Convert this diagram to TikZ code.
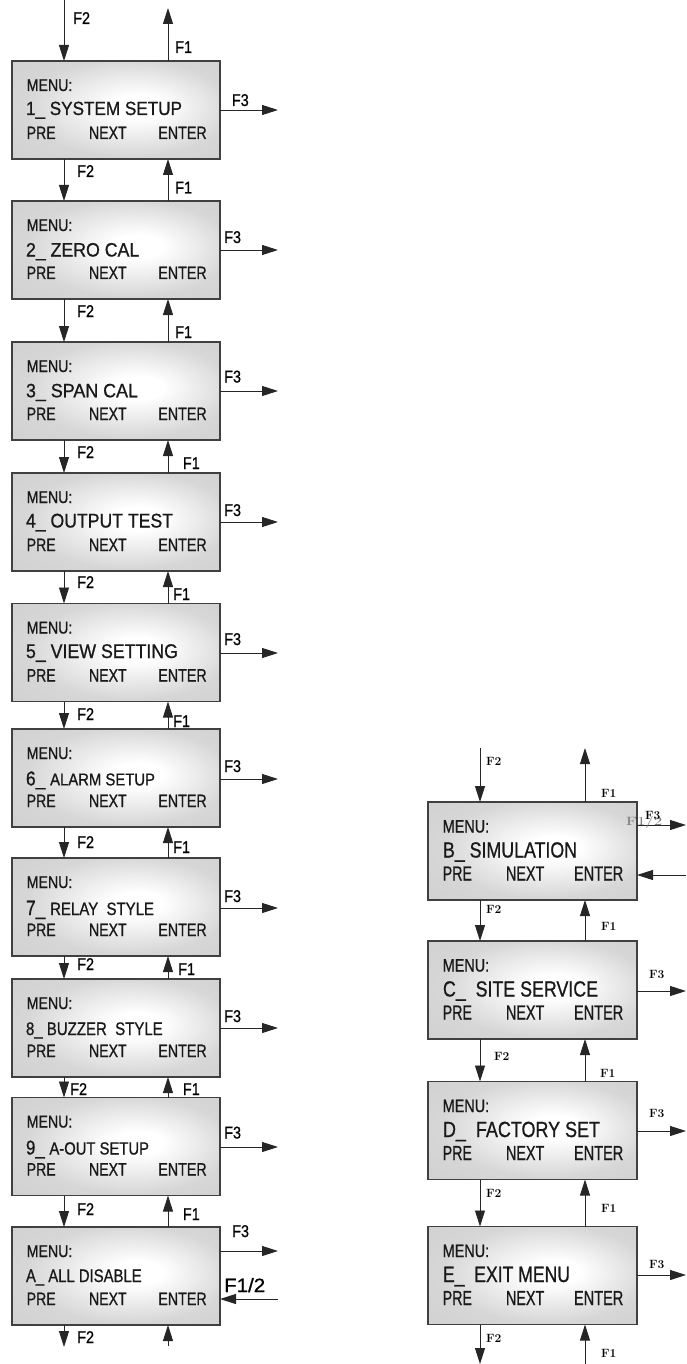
\documentclass[tikz,border=0pt]{standalone}
\usepackage{fontspec}
\usepackage{graphicx}
\usetikzlibrary{arrows.meta,calc}
\newfontfamily\nar[FakeStretch=0.85,FakeBold=0.8]{Liberation Sans}
\newcommand\fitt[3]{\resizebox{#1pt}{#2pt}{\nar #3}}
\newcommand\fitr[3]{\resizebox{#1pt}{#2pt}{\nar #3}}
\pgfdeclareradialshading{boxshade}{\pgfpoint{6bp}{2bp}}{color(0bp)=(white); color(6bp)=(white); color(25bp)=(black!16); color(50bp)=(black!20)}
\tikzset{
  mbox/.style={draw=black!75, line width=1.1pt, shading=boxshade,
    minimum width=208pt, minimum height=98pt, inner sep=0pt, outer sep=0pt},
  rbox/.style={mbox, minimum width=209pt},
  txt/.style={inner sep=0pt, outer sep=0pt, anchor=base west, text=black!90},
  lab/.style={inner sep=0pt, anchor=base west, text=black, font={\fontsize{17}{17}\nar}},
  rlab/.style={inner sep=0pt, anchor=base west, text=black, font={\fontsize{12}{12}\selectfont\bfseries}},
  arr/.style={draw=black!85, line width=0.9pt, -{Triangle[length=16pt,width=10pt]}},
}
% left box: name, top, title offset, title width, title height, title
\newcommand\lbox[6]{%
  \node[mbox] (#1) at (116,#2+49) {};
  \node[txt] (#1m) at (26.7,#2+30) {\fitt{45.7}{11.7}{MENU:}};
  \node[txt] (#1t) at (26,#2+#3) {\fitt{#4}{#5}{#6}};
  \node[txt] (#1p) at (26.7,#2+78) {\fitt{29}{12.3}{PRE}};
  \node[txt] (#1n) at (89,#2+78) {\fitt{37.7}{12.3}{NEXT}};
  \node[txt] (#1e) at (158.3,#2+78) {\fitt{48.4}{12.3}{ENTER}};
}
% right box: name, top, title width, title
\newcommand\rbox[4]{%
  \node[rbox] (#1) at (532.5,#2+49) {};
  \node[txt] (#1m) at (442.7,#2+30.5) {\fitr{46.5}{12.3}{MENU:}};
  \node[txt] (#1t) at (443,#2+55.5) {\fitr{#3}{15.3}{#4}};
  \node[txt] (#1p) at (442.7,#2+78.5) {\fitr{29.3}{14}{PRE}};
  \node[txt] (#1n) at (506,#2+78.5) {\fitr{38.3}{14}{NEXT}};
  \node[txt] (#1e) at (574,#2+78.5) {\fitr{49.3}{14}{ENTER}};
}
\begin{document}
\begin{tikzpicture}[x=1pt,y=-1pt]
\useasboundingbox (0,0) rectangle (686,1364);

% ---------- left column ----------
\lbox{b1}{61}{54}{156}{13.3}{1\_ SYSTEM SETUP}
\lbox{b2}{201}{55.5}{113.3}{13.5}{2\_ ZERO CAL}
\lbox{b3}{342}{55.3}{112}{13.5}{3\_ SPAN CAL}
\lbox{b4}{473}{54.5}{147}{13.8}{4\_ OUTPUT TEST}
\lbox{b5}{603.5}{54.5}{152}{13.8}{5\_ VIEW SETTING}
\lbox{b6}{729}{56.4}{129}{14}{{\fontsize{18}{18}\selectfont 6\_ }{\fontsize{15.4}{15.4}\selectfont ALARM SETUP}}
\lbox{b7}{858}{57}{128}{14.3}{{\fontsize{18}{18}\selectfont 7\_ }{\fontsize{15.5}{15.5}\selectfont RELAY\ \ STYLE}}
\lbox{b8}{979}{56}{136.7}{12.7}{8\_ BUZZER\ \ STYLE}
\lbox{b9}{1097.5}{57}{123}{14}{{\fontsize{18}{18}\selectfont 9\_ }{\fontsize{15.8}{15.8}\selectfont A-OUT SETUP}}
\lbox{bA}{1227}{55}{115.7}{12.7}{A\_ ALL DISABLE}

% top arrows
\coordinate (t2) at (64,0);
\coordinate (t1) at (168,8);
\draw[arr] (t2) -- (b1.north -| t2);
\draw[arr] (b1.north -| t1) -- (t1);
\node[lab] (lt2) at (73,24) {F2};
\node[lab] (lt1) at (175,53) {F1};

% gap arrows
\foreach \a/\b in {b1/b2,b2/b3,b3/b4,b4/b5,b5/b6,b6/b7,b7/b8,b8/b9,b9/bA}{
  \draw[arr] ([xshift=-52pt]\a.south) -- ([xshift=-52pt]\b.north);
  \draw[arr] ([xshift=52pt]\b.north) -- ([xshift=52pt]\a.south);
}
\node[lab] (g1a) at (77,177) {F2};   \node[lab] (g1b) at (175,193.5) {F1};
\node[lab] (g2a) at (77,317) {F2};   \node[lab] (g2b) at (175,338) {F1};
\node[lab] (g3a) at (77,458) {F2};   \node[lab] (g3b) at (182.7,469) {F1};
\node[lab] (g4a) at (77,588) {F2};   \node[lab] (g4b) at (173,600) {F1};
\node[lab] (g5a) at (77,720) {F2};   \node[lab] (g5b) at (173,727) {F1};
\node[lab] (g6a) at (77,848) {F2};   \node[lab] (g6b) at (173,853) {F1};
\node[lab] (g7a) at (77,970) {F2};   \node[lab] (g7b) at (178,975) {F1};
\node[lab] (g8a) at (70,1095) {F2};  \node[lab] (g8b) at (182.7,1095) {F1};
\node[lab] (g9a) at (77,1215) {F2};  \node[lab] (g9b) at (182.7,1220) {F1};

% bottom arrows
\coordinate (u2) at (64,1347);
\coordinate (u1) at (168,1346);
\draw[arr] (bA.south -| u2) -- (u2);
\draw[arr] (u1) -- (bA.south -| u1);
\node[lab] (lu2) at (77,1343) {F2};

% F3 arrows
\coordinate (e1) at (278,110);
\coordinate (e2) at (278,250);
\coordinate (e3) at (278,391);
\coordinate (e4) at (278,522);
\coordinate (e5) at (278,653);
\coordinate (e6) at (278,779);
\coordinate (e7) at (278,908);
\coordinate (e8) at (278,1028);
\coordinate (e9) at (278,1147);
\coordinate (eA) at (278,1251);
\coordinate (iA) at (278,1299);
\foreach \n in {1,2,3,4,5,6,7,8,9,A}{
  \draw[arr] (b\n.east |- e\n) -- (e\n);
}
\draw[arr] (iA) -- (bA.east |- iA);
\node[lab] (f31) at (231.7,106) {F3};
\node[lab] (f32) at (224,243) {F3};
\node[lab] (f33) at (224,382.5) {F3};
\node[lab] (f34) at (224,516) {F3};
\node[lab] (f35) at (224,645) {F3};
\node[lab] (f36) at (224,772) {F3};
\node[lab] (f37) at (224,902) {F3};
\node[lab] (f38) at (224,1022) {F3};
\node[lab] (f39) at (224,1138.5) {F3};
\node[lab] (f3A) at (232,1237) {F3};
\node[lab] (f12A) at (224,1292) {\resizebox{41pt}{14pt}{\nar F1/2}};

% ---------- right column ----------
\rbox{rB}{802}{134}{B\_ SIMULATION}
\rbox{rC}{941}{155}{C\_\ \ SITE SERVICE}
\rbox{rD}{1081.5}{157}{D\_\ \ FACTORY SET}
\rbox{rE}{1226.5}{127}{E\_\ \ EXIT MENU}

\coordinate (rt2) at (480,748);
\coordinate (rt1) at (585,748);
\draw[arr] (rt2) -- (rB.north -| rt2);
\draw[arr] (rB.north -| rt1) -- (rt1);
\node[rlab] (lrt2) at (486,765) {F2};
\node[rlab] (lrt1) at (601,797) {F1};

\foreach \a/\b in {rB/rC,rC/rD,rD/rE}{
  \draw[arr] ([xshift=-52.5pt]\a.south) -- ([xshift=-52.5pt]\b.north);
  \draw[arr] ([xshift=52.5pt]\b.north) -- ([xshift=52.5pt]\a.south);
}
\node[rlab] (h1a) at (486,913) {F2};   \node[rlab] (h1b) at (601,930) {F1};
\node[rlab] (h2a) at (494,1060) {F2};  \node[rlab] (h2b) at (600,1077) {F1};
\node[rlab] (h3a) at (486,1197) {F2};  \node[rlab] (h3b) at (601,1212) {F1};

\coordinate (ru2) at (480,1364);
\coordinate (ru1) at (585,1364);
\draw[arr] (rE.south -| ru2) -- (ru2);
\draw[arr] (ru1) -- (rE.south -| ru1);
\node[rlab] (lru2) at (486,1342) {F2};
\node[rlab] (lru1) at (601,1357) {F1};

\coordinate (rfB) at (686,825);
\coordinate (riB) at (686,875);
\coordinate (rfC) at (686,991);
\coordinate (rfD) at (686,1131);
\coordinate (rfE) at (686,1275);
\draw[arr] (rB.east |- rfB) -- (rfB);
\draw[arr] (riB) -- (rB.east |- riB);
\draw[arr] (rC.east |- rfC) -- (rfC);
\draw[arr] (rD.east |- rfD) -- (rfD);
\draw[arr] (rE.east |- rfE) -- (rfE);
\node[inner sep=0pt, anchor=base west, text=black!55] (r12B) at (626,825) {\resizebox{36pt}{9pt}{F1/2}};
\node[rlab] (r3B) at (645,819) {F3};
\node[rlab] (r3C) at (649,978) {F3};
\node[rlab] (r3D) at (649,1117) {F3};
\node[rlab] (r3E) at (649,1268) {F3};
\end{tikzpicture}
\end{document}
